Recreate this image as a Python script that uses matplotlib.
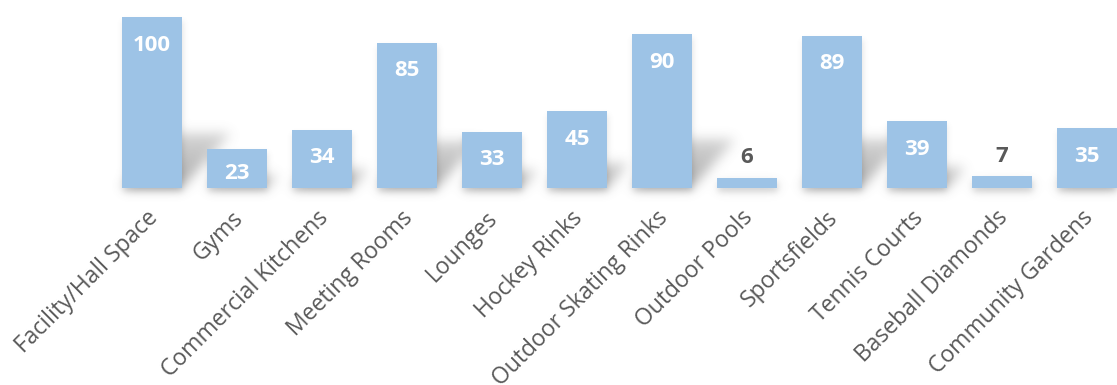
import numpy as np
import matplotlib
matplotlib.use("Agg")
import matplotlib.pyplot as plt
from matplotlib.transforms import ScaledTranslation

categories = ["Facility/Hall Space", "Gyms", "Commercial Kitchens", "Meeting Rooms",
              "Lounges", "Hockey Rinks", "Outdoor Skating Rinks", "Outdoor Pools",
              "Sportsfields", "Tennis Courts", "Baseball Diamonds", "Community Gardens"]
values = [100, 23, 34, 85, 33, 45, 90, 6, 89, 39, 7, 35]

BAR = "#9DC3E6"
GRAY = "#595959"
W, H, DPI = 1117, 385, 100

fig = plt.figure(figsize=(W / DPI, H / DPI), dpi=DPI)
fig.patch.set_facecolor("white")
ax = fig.add_axes([0, 197 / H, 1, 171 / H])
ax.patch.set_alpha(0)
ax.set_zorder(2)
x = np.arange(len(values))
ax.set_xlim(-152 / 85, (W - 152) / 85)
ax.set_ylim(0, 100)
bars = ax.bar(x, values, width=60 / 85, color=BAR, clip_on=False, zorder=3)
for s in ax.spines.values():
    s.set_visible(False)
ax.set_yticks([])
ax.set_xticks(x)
ax.set_xticklabels(categories, rotation=45, ha="right", rotation_mode="anchor",
                   fontsize=16.5, color=GRAY, family="Open Sans")
ax.tick_params(axis="x", length=0, pad=13)
shift = ScaledTranslation(-6 / DPI, 0, fig.dpi_scale_trans)
for lab in ax.get_xticklabels():
    lab.set_transform(lab.get_transform() + shift)

px_per_unit = 171 / 100
for xi, v in zip(x, values):
    hpx = v * px_per_unit
    if hpx < 30:
        ax.annotate(str(v), (xi, v), xytext=(0, 20 * 72 / DPI), textcoords="offset points",
                    ha="center", va="center", fontsize=16, fontweight="bold",
                    color=GRAY, family="Open Sans", zorder=5)
    else:
        off = min(28, hpx * 0.5 + 5)
        ax.annotate(str(v), (xi, v), xytext=(0, -off * 72 / DPI), textcoords="offset points",
                    ha="center", va="center", fontsize=16, fontweight="bold",
                    color="white", family="Open Sans", zorder=5)

# perspective shadows rendered as blurred image behind bars
fig.canvas.draw()
mask = np.zeros((H, W))
under = np.zeros((H, W))
for b in bars:
    (x0, y0), (x1, y1) = ax.transData.transform([(b.get_x(), 0), (b.get_x() + b.get_width(), b.get_height())])
    hpx = y1 - y0
    hs = 0.32 * hpx
    dx = 0.9 * hs
    for r in range(int(round(y0)), int(round(y0 + hs))):
        t = (r - y0) / max(hs, 1)
        a = 1.0 - 0.5 * t
        xa = int(round(x0 + dx * t)); xb = int(round(x1 + dx * t))
        if 0 <= r < H:
            mask[r, max(xa, 0):min(xb, W)] = np.maximum(mask[r, max(xa, 0):min(xb, W)], a)
    for r in range(int(round(y0)) - 4, int(round(y1)) - 4):
        if 0 <= r < H:
            under[r, max(int(x0) + 1, 0):min(int(x1) + 1, W)] = 1.0

def blur(img, sigma):
    rad = int(3 * sigma)
    k = np.exp(-0.5 * (np.arange(-rad, rad + 1) / sigma) ** 2)
    k /= k.sum()
    img = np.apply_along_axis(lambda m: np.convolve(m, k, mode="same"), 0, img)
    img = np.apply_along_axis(lambda m: np.convolve(m, k, mode="same"), 1, img)
    return img

alpha = 0.55 * blur(mask, 6) + 0.18 * blur(under, 3)
alpha = np.clip(alpha, 0, 1)
rgba = np.zeros((H, W, 4))
rgba[..., :3] = 0.4
rgba[..., 3] = alpha
fig.figimage(rgba, xo=0, yo=0, origin="lower", zorder=1)

fig.savefig("out.png", dpi=DPI, facecolor="white")
